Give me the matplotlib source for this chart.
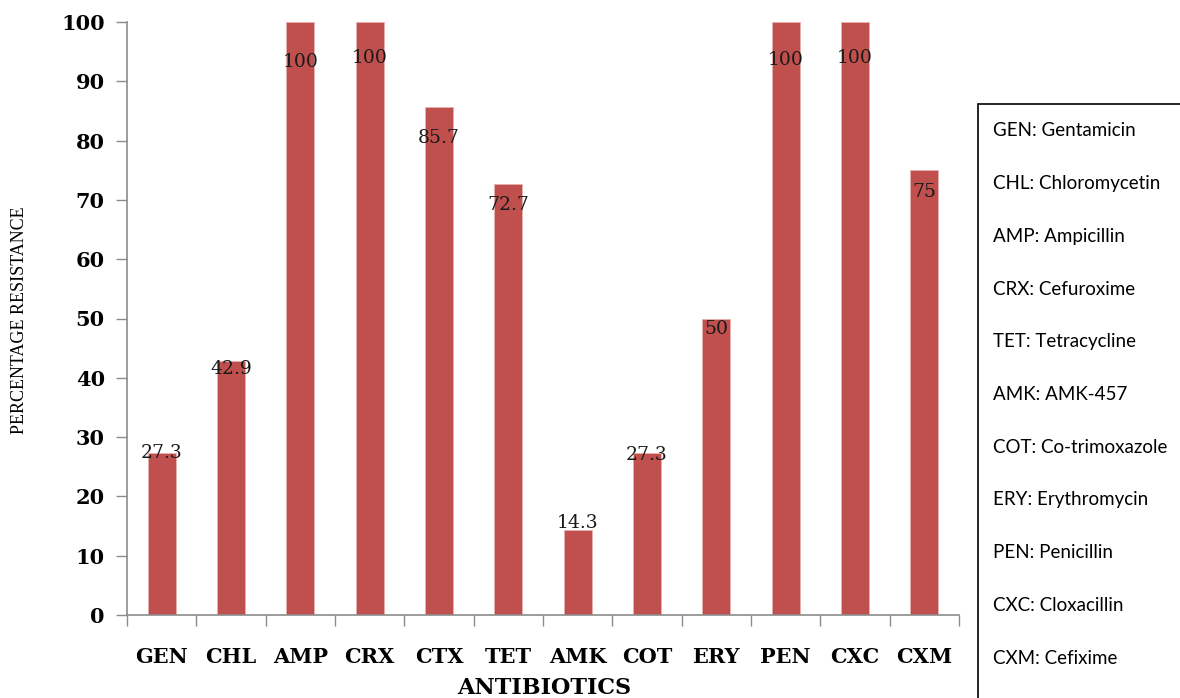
import numpy as np
import matplotlib
matplotlib.use("Agg")
import matplotlib.pyplot as plt
from matplotlib.patches import Rectangle

# resistance per antibiotic (%)
codes = ["GEN", "CHL", "AMP", "CRX", "CTX", "TET", "AMK", "COT", "ERY", "PEN", "CXC", "CXM"]
resistance = [27.3, 42.9, 100, 100, 85.7, 72.7, 14.3, 27.3, 50, 100, 100, 75]
value_text = ["27.3", "42.9", "100", "100", "85.7", "72.7", "14.3", "27.3", "50", "100", "100", "75"]
names = ["Gentamicin", "Chloromycetin", "Ampicillin", "Cefuroxime", "Tetracycline",
         "AMK-457", "Co-trimoxazole", "Erythromycin", "Penicillin", "Cloxacillin", "Cefixime"]
key_codes = ["GEN", "CHL", "AMP", "CRX", "TET", "AMK", "COT", "ERY", "PEN", "CXC", "CXM"]
yticks = [0, 10, 20, 30, 40, 50, 60, 70, 80, 90, 100]

# where each value label sits relative to its bar top (data units)
label_shift = [0.0, -1.5, -6.7, -6.1, -5.3, -3.5, 1.2, -0.3, -1.7, -6.4, -6.1, -3.6]

bar_color = "#C0504D"
axis_color = "#8c8c8c"
bold_serif = dict(family="DejaVu Serif", weight="bold")

fig = plt.figure(figsize=(11.8, 6.98), dpi=100)
ax = fig.add_axes([127 / 1180, 83 / 698, (959 - 127) / 1180, (615 - 22) / 698])

x = np.arange(len(codes))
ax.bar(x, resistance, width=0.4, color=bar_color, edgecolor="#e8b0ae", linewidth=0.6, zorder=2)

for xi, v, t, s in zip(x, resistance, value_text, label_shift):
    ax.text(xi, v + s, t, ha="center", va="center", fontsize=13.5,
            family="DejaVu Serif", color="#1a1a1a", zorder=3)

ax.set_xlim(-0.5, len(codes) - 0.5)
ax.set_ylim(0, 100)

ax.spines["top"].set_visible(False)
ax.spines["right"].set_visible(False)
for side in ("left", "bottom"):
    ax.spines[side].set_color(axis_color)
    ax.spines[side].set_linewidth(1.2)

ax.set_yticks(yticks)
ax.set_yticklabels([str(v) for v in yticks], fontdict=bold_serif, fontsize=15)
ax.tick_params(axis="y", direction="out", length=8, width=1, color=axis_color, pad=8)

# category labels between the boundary ticks
ax.set_xticks(x)
ax.set_xticklabels(codes, fontdict=bold_serif, fontsize=15)
ax.set_xticks(np.arange(-0.5, len(codes), 1), minor=True)
ax.tick_params(axis="x", which="major", length=0, pad=23)
ax.tick_params(axis="x", which="minor", direction="out", length=8, width=1, color=axis_color)

fig.text(20 / 1180, 1 - 320 / 698, "PERCENTAGE RESISTANCE", rotation=90, ha="center",
         va="center", fontsize=13, family="Liberation Serif")
fig.text(544 / 1180, 1 - 688 / 698, "ANTIBIOTICS", ha="center", va="center",
         fontsize=16, **bold_serif)

# abbreviation key in an open box on the right
fig.patches.append(Rectangle((978 / 1180, -0.1), 0.3, 1 - 104 / 698 + 0.1,
                             transform=fig.transFigure, fill=False,
                             edgecolor="black", linewidth=1.2))
for i, (c, n) in enumerate(zip(key_codes, names)):
    fig.text(993 / 1180, 1 - (131 + 52.7 * i) / 698, f"{c}: {n}", ha="left", va="center",
             fontsize=13.5, family="Lato", color="black")

fig.savefig("out.png", dpi=100)
